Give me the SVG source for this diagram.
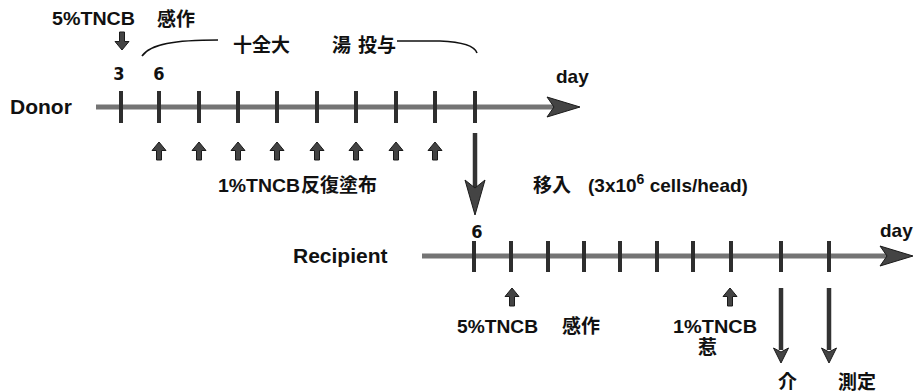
<svg xmlns="http://www.w3.org/2000/svg" xmlns:xlink="http://www.w3.org/1999/xlink" width="915" height="392" viewBox="0 0 915 392">
<style>
text{font-family:"Liberation Sans","Noto Sans CJK JP",sans-serif;font-weight:bold;fill:#111;}
.lab{font-size:19px;}
.big{font-size:21px;}
.num{font-family:"DejaVu Sans Condensed","Liberation Sans",sans-serif;font-size:18px;text-anchor:middle;}
.axis{stroke:#747474;stroke-width:5;fill:none;}
.tick{stroke:#2e2e2e;stroke-width:4;}
.arr{fill:#444;stroke:#1a1a1a;stroke-width:1;}
.shaft{stroke:#333;stroke-width:4.5;}
.brace{stroke:#111;stroke-width:1.6;fill:none;}
</style>
<defs>
<path id="up" class="arr" d="M0,0 L7,8.5 L2.5,8.5 L2.5,18 L-2.5,18 L-2.5,8.5 L-7,8.5 Z"/>
<path id="dn" class="arr" d="M0,0 L7,-8.5 L2.5,-8.5 L2.5,-18 L-2.5,-18 L-2.5,-8.5 L-7,-8.5 Z"/>
<path id="head" class="arr" d="M0,0 L-33,-10 L-26,0 L-33,10 Z"/>
</defs>

<g id="connectors">
  <!-- donor axis -->
  <line class="axis" x1="96" y1="107" x2="556" y2="107"/>
  <use xlink:href="#head" x="580" y="107"/>
  <g class="tick">
    <line x1="121" y1="91" x2="121" y2="123"/><line x1="159" y1="91" x2="159" y2="123"/>
    <line x1="199" y1="91" x2="199" y2="123"/><line x1="238" y1="91" x2="238" y2="123"/>
    <line x1="277" y1="91" x2="277" y2="123"/><line x1="317" y1="91" x2="317" y2="123"/>
    <line x1="356" y1="91" x2="356" y2="123"/><line x1="396" y1="91" x2="396" y2="123"/>
    <line x1="435" y1="91" x2="435" y2="123"/><line x1="475" y1="91" x2="475" y2="123"/>
  </g>
  <!-- donor up arrows -->
  <use xlink:href="#up" x="159" y="142"/><use xlink:href="#up" x="199" y="142"/>
  <use xlink:href="#up" x="238" y="142"/><use xlink:href="#up" x="277" y="142"/>
  <use xlink:href="#up" x="317" y="142"/><use xlink:href="#up" x="356" y="142"/>
  <use xlink:href="#up" x="396" y="142"/><use xlink:href="#up" x="435" y="142"/>
  <!-- small down arrow at day 3 -->
  <use xlink:href="#dn" x="122" y="50"/>
  <!-- brace -->
  <path class="brace" d="M142,56 C150,44 175,40 218,40"/>
  <path class="brace" d="M397,41 L440,41 C464,42 475,47 477,53"/>
  <!-- transfer arrow -->
  <line class="shaft" x1="475" y1="133" x2="475" y2="190"/>
  <path class="arr" d="M475,215 L465,180 L475,188 L485,180 Z"/>
  <!-- recipient axis -->
  <line class="axis" x1="422" y1="256" x2="890" y2="256"/>
  <use xlink:href="#head" x="913" y="256"/>
  <g class="tick">
    <line x1="474" y1="241" x2="474" y2="272"/><line x1="511" y1="241" x2="511" y2="272"/>
    <line x1="548" y1="241" x2="548" y2="272"/><line x1="584" y1="241" x2="584" y2="272"/>
    <line x1="620" y1="241" x2="620" y2="272"/><line x1="657" y1="241" x2="657" y2="272"/>
    <line x1="693" y1="241" x2="693" y2="272"/><line x1="731" y1="241" x2="731" y2="272"/>
    <line x1="781" y1="241" x2="781" y2="272"/><line x1="829" y1="241" x2="829" y2="272"/>
  </g>
  <use xlink:href="#up" x="512" y="288"/>
  <use xlink:href="#up" x="730" y="288"/>
  <line class="shaft" x1="781" y1="288" x2="781" y2="350"/>
  <path class="arr" d="M781,363 L773.5,348 L781,352 L788.5,348 Z"/>
  <line class="shaft" x1="829" y1="288" x2="829" y2="350"/>
  <path class="arr" d="M829,363 L821.5,348 L829,352 L836.5,348 Z"/>
</g>

<g id="donor-label"><text class="big" x="10" y="114">Donor</text></g>
<g id="recipient-label"><text class="big" x="293" y="263">Recipient</text></g>
<g id="donor-day"><text class="lab" x="556" y="83">day</text></g>
<g id="recipient-day"><text class="lab" x="880" y="237">day</text></g>
<g id="donor-days"><text class="num" x="119" y="80">3</text><text class="num" x="159" y="80">6</text></g>
<g id="recipient-day6"><text class="num" x="477" y="238">6</text></g>
<g id="sensitize-top"><text class="lab" x="52" y="25" textLength="83" lengthAdjust="spacingAndGlyphs">5%TNCB</text><text class="lab" x="157" y="26">感作</text></g>
<g id="drug"><text class="lab" y="52"><tspan x="233">十全大</tspan><tspan x="332">湯</tspan><tspan x="358">投与</tspan></text></g>
<g id="repeat"><text class="lab" x="218" y="192"><tspan textLength="82" lengthAdjust="spacingAndGlyphs">1%TNCB</tspan><tspan x="301">反復塗布</tspan></text></g>
<g id="transfer"><text class="lab" x="533" y="192">移入<tspan x="588">(3x10</tspan><tspan font-size="14" dy="-8">6</tspan><tspan dy="8"> cells/head)</tspan></text></g>
<g id="sensitize-bottom"><text class="lab" x="457" y="333" textLength="81" lengthAdjust="spacingAndGlyphs">5%TNCB</text><text class="lab" x="562" y="333">感作</text></g>
<g id="challenge"><text class="lab" x="673" y="333" textLength="84" lengthAdjust="spacingAndGlyphs">1%TNCB</text><text class="lab" x="698" y="354">惹</text></g>
<g id="end1"><text class="lab" x="778" y="389">介</text></g>
<g id="end2"><text class="lab" x="838" y="389">測定</text></g>
</svg>
